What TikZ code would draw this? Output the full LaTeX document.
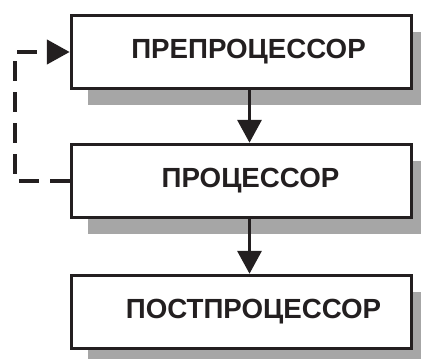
\documentclass[tikz,border=0pt]{standalone}
\usepackage{fontspec}
\setmainfont{Liberation Sans}
\usetikzlibrary{arrows.meta,shadows}
\definecolor{ink}{RGB}{35,31,32}
\definecolor{shadowgray}{RGB}{166,166,166}

\begin{document}
\begin{tikzpicture}[x=1pt, y=-1pt,
    box/.style={draw=ink, line width=3.5pt, fill=white, minimum width=340pt, minimum height=73pt,
        drop shadow={shadow xshift=16.5pt, shadow yshift=-16.5pt, opacity=1, fill=shadowgray}},
    txt/.style={text=ink, font=\fontsize{27.7}{30}\selectfont\bfseries},
    flow/.style={draw=ink, line width=3.5pt, -{Triangle[width=24pt,length=23pt]}},
    back/.style={draw=ink, line width=4.5pt, dash pattern=on 20pt off 11pt, -{Triangle[width=24pt,length=23pt]}}]
    \useasboundingbox (0,0) rectangle (421,359);
    \node[box] (pre) at (241.5,52) {};
    \node[box] (proc) at (241.5,181) {};
    \node[box] (post) at (241.5,312) {};
    \node[txt] (pretxt) at ([xshift=7pt]pre.center) {ПРЕПРОЦЕССОР};
    \node[txt] (proctxt) at ([xshift=9pt]proc.center) {ПРОЦЕССОР};
    \node[txt] (posttxt) at ([xshift=12pt]post.center) {ПОСТПРОЦЕССОР};
    \coordinate (loop) at (15,181);
    \draw[flow] ([xshift=8pt]pre.south) -- ([xshift=8pt]proc.north);
    \draw[flow] ([xshift=8pt]proc.south) -- ([xshift=8pt]post.north);
    \draw[back] (proc.west) -- (loop) |- (pre.west);
\end{tikzpicture}
\end{document}
